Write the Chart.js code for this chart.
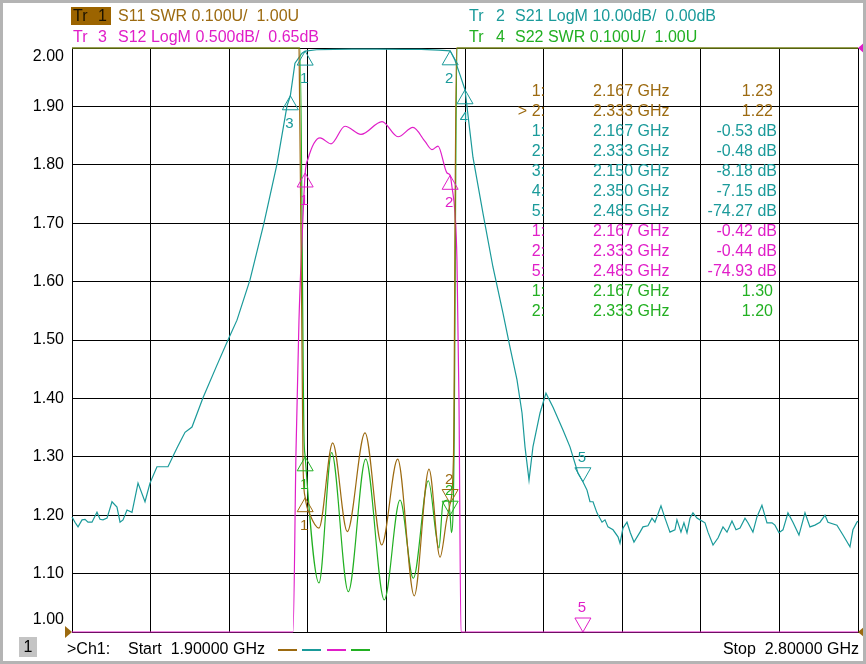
<!DOCTYPE html>
<html>
<head>
<script src="https://cdn.jsdelivr.net/npm/chart.js@4.4.1/dist/chart.umd.min.js"></script>
<style>
  body { margin: 0; background: #fff; overflow: hidden; }
  canvas { display: block; }
</style>
</head>
<body>
<canvas id="vna" width="866" height="664"></canvas>
<script>
// grid: 1.9 .. 2.8 GHz, 10 divisions; left axis 1.00 .. 2.00
const xGrid = [1.90, 1.99, 2.08, 2.17, 2.26, 2.35, 2.44, 2.53, 2.62, 2.71, 2.80];
const yGrid = [1.00, 1.10, 1.20, 1.30, 1.40, 1.50, 1.60, 1.70, 1.80, 1.90, 2.00];
const yTickLabels = ['1.00', '1.10', '1.20', '1.30', '1.40', '1.50', '1.60', '1.70', '1.80', '1.90', '2.00'];

// Tr 1  S11 SWR (0.1 U/div, 1.00 U at bottom)
const s11Freq = [1.900, 2.160, 2.1645, 2.167, 2.1728, 2.1828, 2.1985, 2.2152, 2.2355, 2.2546,
                 2.2729, 2.2919, 2.3088, 2.3214, 2.3290, 2.333, 2.3368, 2.3402, 2.800];
const s11Swr  = [2.00, 2.00, 1.29, 1.23, 1.20, 1.178, 1.324, 1.172, 1.341, 1.149,
                 1.296, 1.062, 1.279, 1.128, 1.192, 1.22, 1.30, 2.00, 2.00];

// Tr 2  S21 LogM (10 dB/div, 0 dB at top)
const s21Freq = [1.9000, 1.9034, 1.9069, 1.9115, 1.9149, 1.9183, 1.9229, 1.9286, 1.9321, 1.9355,
                 1.9401, 1.9458, 1.9515, 1.9550, 1.9584, 1.9630, 1.9687, 1.9756, 1.9836, 1.9893,
                 1.9973, 2.0099, 2.0202, 2.0294, 2.0374, 2.0500, 2.0660, 2.0786, 2.0889, 2.1038,
                 2.1198, 2.1347, 2.1462, 2.1500, 2.1553, 2.1634, 2.1670, 2.1800, 2.2000, 2.2200,
                 2.2500, 2.2800, 2.3000, 2.3200, 2.3330, 2.3385, 2.3443, 2.3500, 2.3591, 2.3706,
                 2.3820, 2.3935, 2.4015, 2.4095, 2.4153, 2.4187, 2.4233, 2.4278, 2.4359, 2.4427,
                 2.4508, 2.4622, 2.4702, 2.4794, 2.4850, 2.4897,
                 2.4931, 2.4966, 2.5011, 2.5069, 2.5103, 2.5137, 2.5195, 2.5252, 2.5275, 2.5309,
                 2.5355, 2.5393, 2.5435, 2.5504, 2.5538, 2.5595, 2.5641, 2.5675, 2.5744, 2.5790,
                 2.5847, 2.5904, 2.5927, 2.5973, 2.6007, 2.6042, 2.6076, 2.6110, 2.6156, 2.6191,
                 2.6248, 2.6282, 2.6340, 2.6397, 2.6454, 2.6500, 2.6557, 2.6603, 2.6649, 2.6706,
                 2.6740, 2.6797, 2.6843, 2.6900, 2.6958, 2.7015, 2.7049, 2.7095, 2.7141, 2.7198,
                 2.7255, 2.7324, 2.7393, 2.7450, 2.7507, 2.7565, 2.7622, 2.7656, 2.7759, 2.7828,
                 2.7908, 2.7942, 2.7988, 2.8000];
const s21Db   = [-80.3, -81.2, -82.0, -80.8, -80.7, -81.2, -81.2, -79.5, -80.7, -80.8,
                 -80.5, -77.7, -78.6, -81.2, -80.8, -79.1, -79.5, -74.5, -77.7, -74.5,
                 -71.7, -71.7, -68.5, -65.8, -64.9, -59.9, -54.3, -50.0, -46.6, -39.7,
                 -30.0, -19.9, -9.9, -8.18, -2.6, -0.9, -0.53, -0.30, -0.25, -0.20,
                 -0.20, -0.22, -0.25, -0.35, -0.48, -2.1, -4.6, -7.15, -18.7, -28.3,
                 -37.5, -45.4, -51.2, -56.8, -62.5, -68.3, -74.0, -68.3, -62.5, -59.1,
                 -61.5, -65.4, -68.3, -72.8, -74.27, -75.7,
                 -77.7, -77.7, -79.6, -81.2, -80.8, -82.0, -82.5, -83.7, -84.8, -82.2,
                 -81.2, -83.0, -84.6, -82.9, -82.0, -81.8, -80.5, -81.2, -78.4, -80.5,
                 -82.9, -82.5, -80.8, -82.9, -81.3, -83.0, -80.5, -79.6, -80.5, -80.8,
                 -81.3, -82.9, -85.1, -83.9, -82.0, -82.9, -81.0, -82.5, -82.2, -80.5,
                 -81.3, -82.9, -80.3, -78.3, -81.3, -81.3, -81.7, -83.0, -82.5, -79.6,
                 -81.2, -83.4, -79.6, -82.0, -81.7, -81.2, -80.0, -81.2, -81.7, -83.4,
                 -85.4, -82.5, -81.2, -81.0];

// Tr 3  S12 LogM (0.5 dB/div, 0.65 dB at top)
const s12Freq = [1.900, 2.1531, 2.1565, 2.1599, 2.1634, 2.167, 2.1702, 2.1840, 2.1966, 2.2126,
                 2.2309, 2.2550, 2.2733, 2.2904, 2.3042, 2.3122, 2.3191, 2.3294, 2.333, 2.3351,
                 2.3385, 2.3408, 2.3431, 2.3454, 2.800];
const s12Db   = [-75, -75, -2.8, -1.68, -0.99, -0.42, -0.30, -0.12, -0.17, -0.02,
                 -0.09, 0.02, -0.11, -0.03, -0.15, -0.22, -0.19, -0.42, -0.44, -0.54,
                 -0.76, -1.17, -2.36, -75, -75];

// Tr 4  S22 SWR (0.1 U/div, 1.00 U at bottom)
const s22Freq = [1.900, 2.1611, 2.1656, 2.167, 2.1828, 2.1973, 2.2164, 2.2363, 2.2576, 2.2756,
                 2.2908, 2.3080, 2.3202, 2.3248, 2.3305, 2.333, 2.3345, 2.3374, 2.3408, 2.800];
const s22Swr  = [2.00, 2.00, 1.34, 1.30, 1.084, 1.307, 1.069, 1.296, 1.055, 1.226,
                 1.092, 1.259, 1.144, 1.221, 1.226, 1.20, 1.17, 1.30, 2.00, 2.00];

// markers (table order)
const markerTrace = ['s11', 's11', 's21', 's21', 's21', 's21', 's21', 's12', 's12', 's12', 's22', 's22'];
const markerNum   = ['1', '2', '1', '2', '3', '4', '5', '1', '2', '5', '1', '2'];
const markerFreq  = [2.167, 2.333, 2.167, 2.333, 2.150, 2.350, 2.485, 2.167, 2.333, 2.485, 2.167, 2.333];
const markerVal   = [1.23, 1.22, -0.53, -0.48, -8.18, -7.15, -74.27, -0.42, -0.44, -74.93, 1.30, 1.20];
const markerDown  = [false, true, false, false, false, false, true, false, false, true, false, true];

const colors = { s11: '#9c6a10', s21: '#1a9a9a', s12: '#e01ec8', s22: '#22b022' };
const toAxis = {
  s11: v => v,
  s22: v => v,
  s21: db => 2 + db / 100,
  s12: db => 2 + (db - 0.65) / 5
};
function clampAxis(v) { return Math.min(2, Math.max(1, v)); }
function series(freq, vals, key) {
  return freq.map((f, i) => ({ x: f, y: clampAxis(toAxis[key](vals[i])) }));
}

const FONT = "'Liberation Sans', Arial, sans-serif";

const vnaOverlay = {
  id: 'vnaOverlay',
  beforeDraw(chart) {
    const c = chart.ctx;
    c.save();
    c.fillStyle = '#fff';
    c.fillRect(0, 0, chart.width, chart.height);
    c.restore();
  },
  afterDraw(chart) {
    const c = chart.ctx;
    const xs = chart.scales.x, ys = chart.scales.y;
    const area = chart.chartArea;
    c.save();

    // header
    c.font = '16px ' + FONT;
    c.textBaseline = 'alphabetic';
    c.textAlign = 'left';
    c.fillStyle = '#9c6400';
    c.fillRect(71, 7, 40, 18);
    c.fillStyle = '#1a1200';
    c.fillText('Tr', 73, 21); c.fillText('1', 98, 21);
    c.fillStyle = colors.s11; c.fillText('S11 SWR 0.100U/  1.00U', 118, 21);
    c.fillStyle = colors.s12;
    c.fillText('Tr', 73, 42); c.fillText('3', 98, 42);
    c.fillText('S12 LogM 0.500dB/  0.65dB', 118, 42);
    c.fillStyle = colors.s21;
    c.fillText('Tr', 469, 21); c.fillText('2', 496, 21);
    c.fillText('S21 LogM 10.00dB/  0.00dB', 515, 21);
    c.fillStyle = colors.s22;
    c.fillText('Tr', 469, 42); c.fillText('4', 496, 42);
    c.fillText('S22 SWR 0.100U/  1.00U', 515, 42);

    // y labels
    c.fillStyle = '#000';
    c.textAlign = 'right';
    c.textBaseline = 'middle';
    yGrid.forEach((v, i) => {
      let py = ys.getPixelForValue(v);
      py = Math.min(Math.max(py, area.top + 9), area.bottom - 12);
      c.fillText(yTickLabels[i], 64, py);
    });

    // reference level arrows
    function tri(p1, p2, p3, col) {
      c.fillStyle = col;
      c.beginPath(); c.moveTo(p1[0], p1[1]); c.lineTo(p2[0], p2[1]); c.lineTo(p3[0], p3[1]); c.closePath(); c.fill();
    }
    tri([area.left, area.bottom], [area.left - 7, area.bottom - 6], [area.left - 7, area.bottom + 6], colors.s11);
    tri([area.right, area.bottom], [area.right + 7, area.bottom - 6], [area.right + 7, area.bottom + 6], colors.s11);
    tri([area.right, area.top], [area.right + 8, area.top - 7], [area.right + 8, area.top + 7], colors.s12);

    // markers
    const w = 8, h = 14;
    c.font = '15px ' + FONT;
    c.textAlign = 'center';
    c.lineWidth = 1;
    markerTrace.forEach((k, i) => {
      const px = xs.getPixelForValue(markerFreq[i]);
      const py = ys.getPixelForValue(clampAxis(toAxis[k](markerVal[i])));
      c.strokeStyle = colors[k];
      c.fillStyle = colors[k];
      c.beginPath();
      if (markerDown[i]) {
        c.moveTo(px, py); c.lineTo(px - w, py - h); c.lineTo(px + w, py - h); c.closePath();
        c.stroke();
        c.fillText(markerNum[i], px - 1, py - h - 10);
      } else {
        c.moveTo(px, py); c.lineTo(px - w, py + h); c.lineTo(px + w, py + h); c.closePath();
        c.stroke();
        c.fillText(markerNum[i], px - 1, py + h + 14);
      }
    });

    // marker table
    c.font = '16px ' + FONT;
    markerTrace.forEach((k, i) => {
      const y = 92 + i * 20;
      const swr = (k === 's11' || k === 's22');
      c.fillStyle = colors[k];
      c.textAlign = 'right';
      c.fillText((k === 's11' && markerNum[i] === '2' ? '> ' : '') + markerNum[i] + ':', 545, y);
      c.textAlign = 'left';
      c.fillText(markerFreq[i].toFixed(3) + ' GHz', 593, y);
      c.textAlign = 'right';
      c.fillText(markerVal[i].toFixed(2) + (swr ? '' : ' dB'), swr ? 773 : 777, y);
    });

    // bottom status line
    c.fillStyle = '#c4c4c4';
    c.fillRect(19, 637, 18, 20);
    c.fillStyle = '#000';
    c.textAlign = 'center';
    c.fillText('1', 28, 648);
    c.textAlign = 'left';
    c.fillText('>Ch1:', 67, 650);
    c.fillText('Start  1.90000 GHz', 128, 650);
    c.textAlign = 'right';
    c.fillText('Stop  2.80000 GHz', 859, 650);
    c.lineWidth = 2;
    [['s11', 278], ['s21', 302], ['s12', 327], ['s22', 351]].forEach(([k, x0]) => {
      c.strokeStyle = colors[k];
      c.beginPath(); c.moveTo(x0, 650); c.lineTo(x0 + 19, 650); c.stroke();
    });

    // outer frame
    c.strokeStyle = '#b4b4b4';
    c.lineWidth = 3;
    c.strokeRect(1.5, 1.5, chart.width - 3, chart.height - 3);
    c.restore();
  }
};

function trace(key, freq, vals, smooth) {
  return {
    label: key,
    data: series(freq, vals, key),
    borderColor: colors[key],
    borderWidth: 1.2,
    pointRadius: 0,
    fill: false,
    clip: false,
    tension: 0,
    cubicInterpolationMode: smooth ? 'monotone' : 'default'
  };
}

const gridOpts = { color: '#000', lineWidth: 1, drawTicks: false };

new Chart(document.getElementById('vna').getContext('2d'), {
  type: 'line',
  data: {
    datasets: [
      trace('s11', s11Freq, s11Swr, true),
      trace('s12', s12Freq, s12Db, true),
      trace('s22', s22Freq, s22Swr, true),
      trace('s21', s21Freq, s21Db, false)
    ]
  },
  options: {
    responsive: false,
    animation: false,
    devicePixelRatio: 1,
    layout: { padding: { left: 72, right: 8, top: 48, bottom: 32 } },
    plugins: { legend: { display: false }, tooltip: { enabled: false } },
    scales: {
      x: {
        type: 'linear', min: 1.9, max: 2.8,
        afterBuildTicks: s => { s.ticks = xGrid.map(v => ({ value: v })); },
        afterFit: s => { s.height = 0; },
        ticks: { display: false },
        grid: gridOpts,
        border: { color: '#000', width: 1 }
      },
      y: {
        type: 'linear', min: 1, max: 2,
        afterBuildTicks: s => { s.ticks = yGrid.map(v => ({ value: v })); },
        afterFit: s => { s.width = 0; },
        ticks: { display: false },
        grid: gridOpts,
        border: { color: '#000', width: 1 }
      }
    }
  },
  plugins: [vnaOverlay]
});
</script>
</body>
</html>
